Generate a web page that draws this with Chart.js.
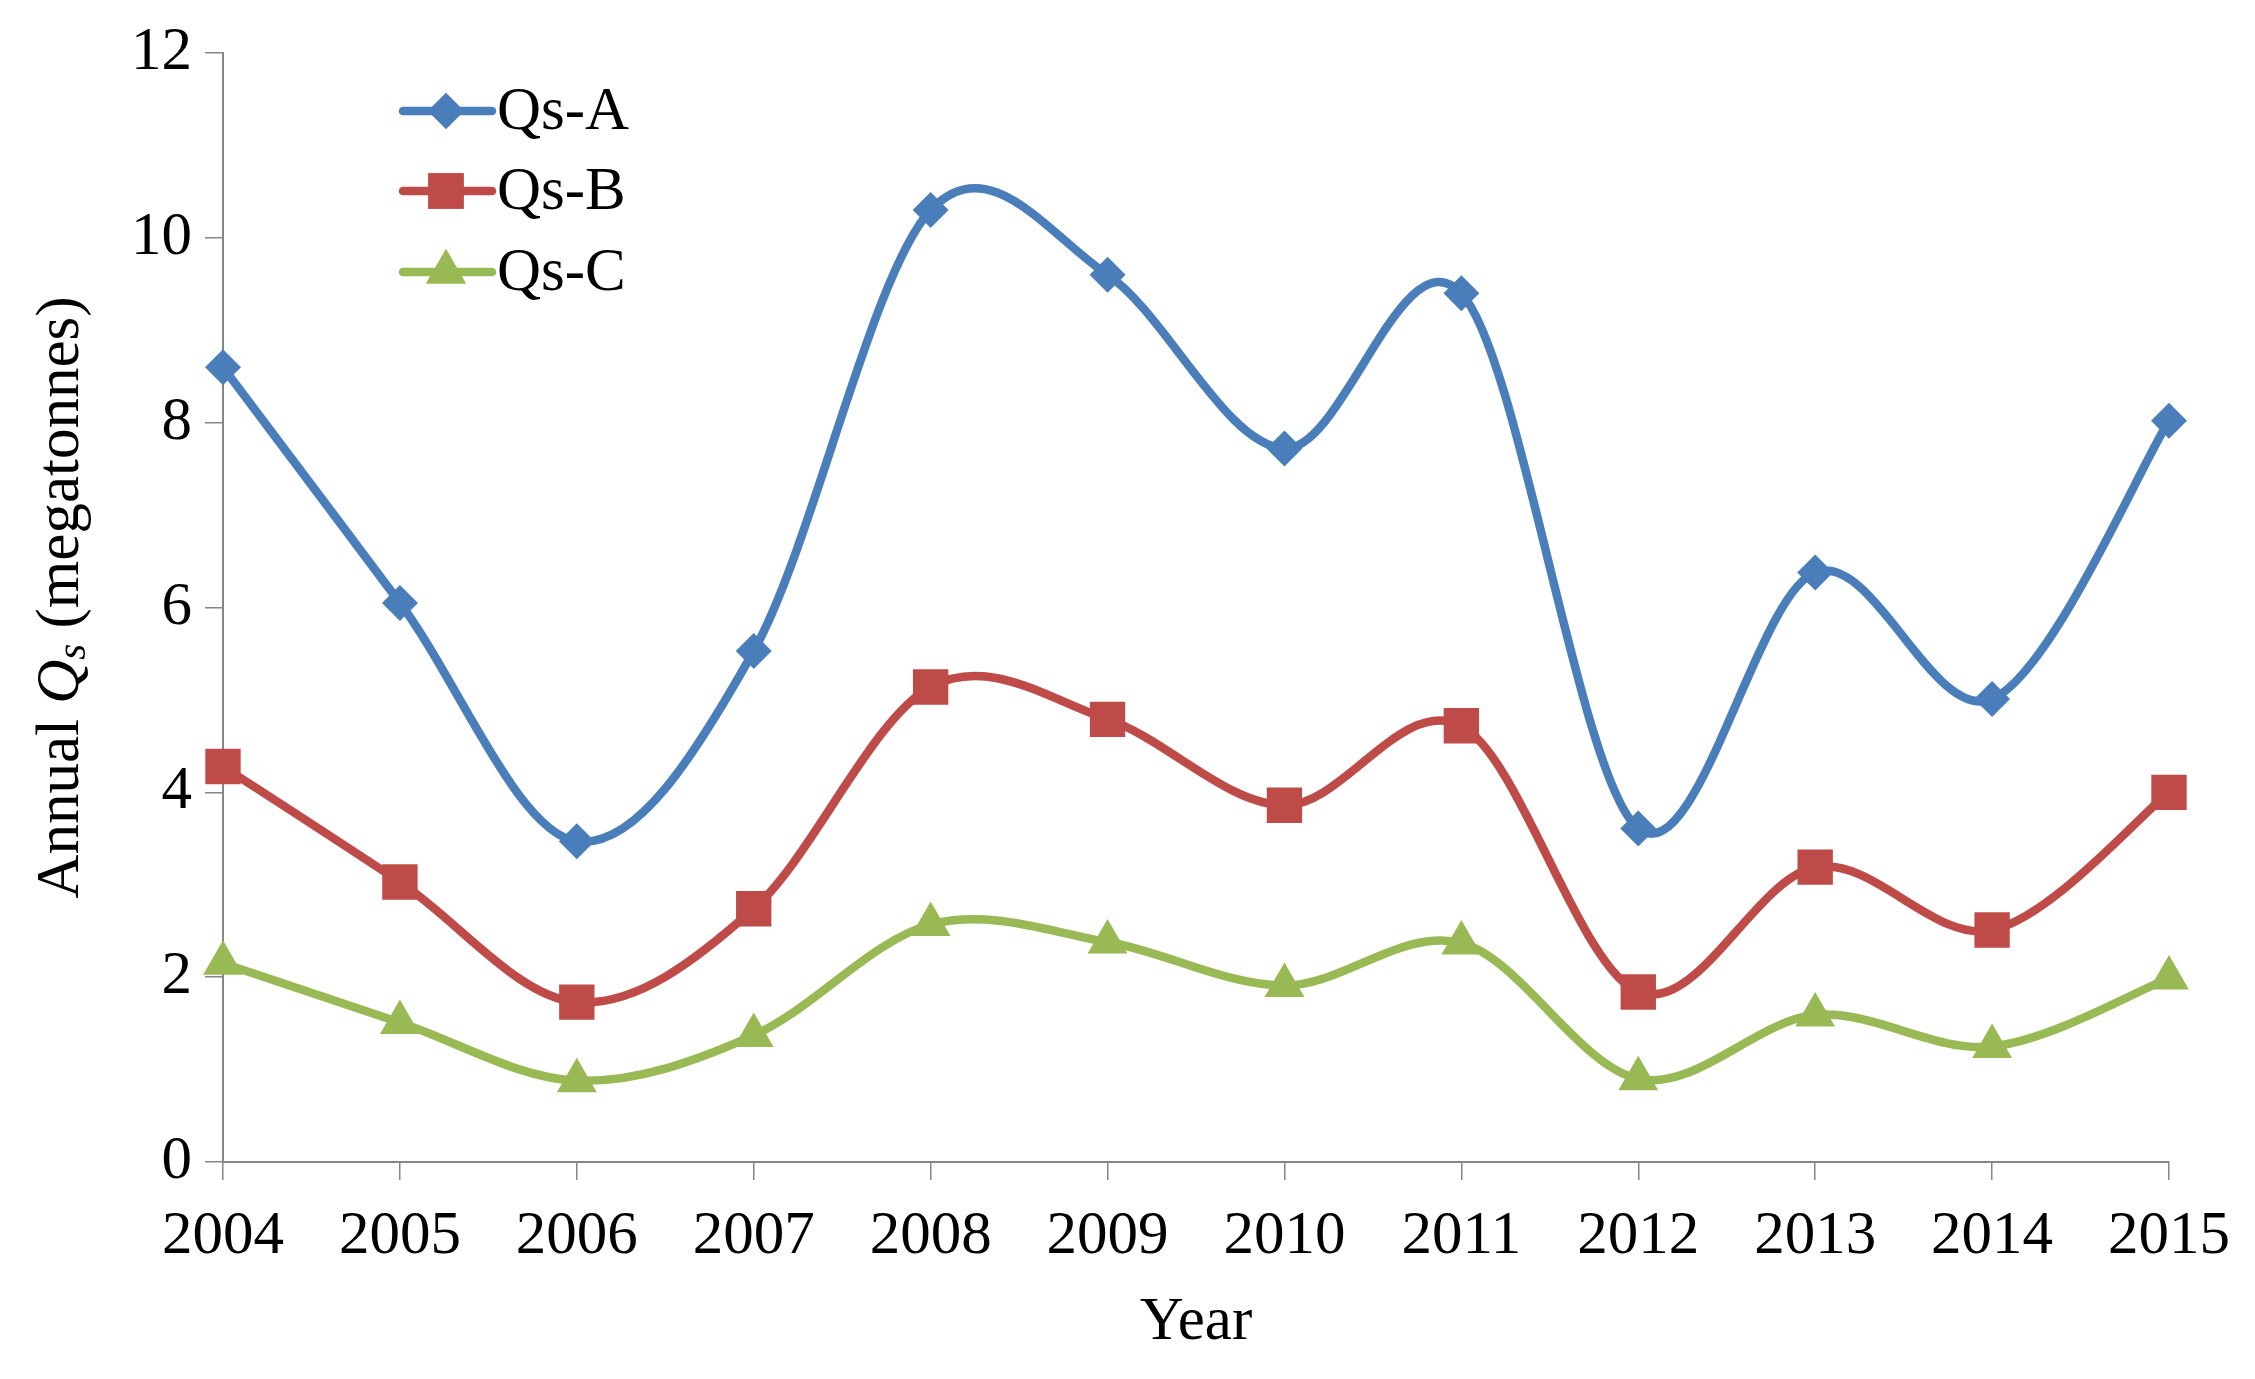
<!DOCTYPE html>
<html>
<head>
<meta charset="utf-8">
<script src="https://cdn.jsdelivr.net/npm/chart.js@4/dist/chart.umd.min.js"></script>
<style>
  html, body { margin: 0; padding: 0; background: #ffffff; }
  #wrap { width: 2255px; height: 1379px; }
</style>
</head>
<body>
<div id="wrap"><canvas id="c" width="2255" height="1379"></canvas></div>
<script>
const years = ['2004','2005','2006','2007','2008','2009','2010','2011','2012','2013','2014','2015'];
const qsA = [8.6, 6.05, 3.47, 5.53, 10.3, 9.6, 7.72, 9.4, 3.61, 6.38, 5.01, 8.02];
const qsB = [4.28, 3.03, 1.73, 2.74, 5.14, 4.79, 3.86, 4.72, 1.84, 3.19, 2.51, 4.0];
const qsC = [2.15, 1.51, 0.88, 1.37, 2.57, 2.38, 1.91, 2.37, 0.9, 1.59, 1.25, 1.99];
const seriesNames = ['Qs-A', 'Qs-B', 'Qs-C'];
const yTicks = [0, 2, 4, 6, 8, 10, 12];

const FONT = "'Liberation Serif', 'Times New Roman', serif";
const colors = ['#4A7EBB', '#BE4B48', '#98B954'];
const styles = ['rectRot', 'rect', 'triangle'];
const radii = [18, 25, 23];
const LW = 8.5;

function mkDs(label, data, i) {
  return {
    label: label,
    data: data,
    borderColor: colors[i],
    backgroundColor: colors[i],
    pointBackgroundColor: colors[i],
    pointBorderColor: colors[i],
    pointBorderWidth: 0,
    pointStyle: styles[i],
    pointRadius: radii[i],
    pointHoverRadius: radii[i],
    borderWidth: LW,
    tension: 0.4,
    fill: false,
    order: i
  };
}

// Excel-style (Catmull-Rom) smoothing: control points from neighbouring points
const smoothPlugin = {
  id: 'excelSmooth',
  beforeDatasetDraw(chart, args) {
    const meta = chart.getDatasetMeta(args.index);
    const line = meta.dataset;
    if (!line) return;
    line.updateControlPoints(chart.chartArea, meta.iScale.axis);
    const pts = meta.data;
    const n = pts.length;
    for (let i = 0; i < n; i++) {
      const p = pts[i];
      const prev = pts[Math.max(0, i - 1)];
      const next = pts[Math.min(n - 1, i + 1)];
      const dx = (next.x - prev.x) / 6;
      const dy = (next.y - prev.y) / 6;
      p.cp1x = p.x - dx; p.cp1y = p.y - dy;
      p.cp2x = p.x + dx; p.cp2y = p.y + dy;
    }
    line._path = undefined;
  }
};

const yTitlePlugin = {
  id: 'yTitle',
  afterDraw(chart) {
    const ctx = chart.ctx;
    const area = chart.chartArea;
    const cy = (area.top + area.bottom) / 2 - 10;
    const parts = [
      { t: 'Annual ', f: '61px ' + FONT, dy: 0 },
      { t: 'Q', f: 'italic 61px ' + FONT, dy: 0 },
      { t: 's', f: 'italic 41px ' + FONT, dy: 12 },
      { t: ' (megatonnes)', f: '61px ' + FONT, dy: 0 }
    ];
    ctx.save();
    let total = 0;
    parts.forEach(p => { ctx.font = p.f; p.w = ctx.measureText(p.t).width; total += p.w; });
    ctx.translate(62, cy);
    ctx.rotate(-Math.PI / 2);
    ctx.fillStyle = '#000000';
    ctx.textBaseline = 'middle';
    let x = -total / 2;
    parts.forEach(p => { ctx.font = p.f; ctx.fillText(p.t, x, p.dy); x += p.w; });
    ctx.restore();
  }
};

const legendPlugin = {
  id: 'customLegend',
  afterDraw(chart) {
    const ctx = chart.ctx;
    const rows = [111, 191, 272];
    chart.data.datasets.forEach((ds, i) => {
      const y = rows[i];
      ctx.save();
      ctx.strokeStyle = ds.borderColor;
      ctx.lineWidth = LW;
      ctx.lineCap = 'round';
      ctx.beginPath();
      ctx.moveTo(403, y);
      ctx.lineTo(492, y);
      ctx.stroke();
      ctx.fillStyle = ds.borderColor;
      ctx.strokeStyle = ds.borderColor;
      Chart.helpers.drawPoint(ctx, { pointStyle: ds.pointStyle, radius: ds.pointRadius, borderWidth: 0, rotation: 0 }, 446, y);
      ctx.fill();
      ctx.fillStyle = '#000000';
      ctx.font = '61px ' + FONT;
      ctx.textBaseline = 'middle';
      ctx.textAlign = 'left';
      ctx.fillText(ds.label, 497, y + 2);
      ctx.restore();
    });
  }
};

new Chart(document.getElementById('c'), {
  type: 'line',
  data: {
    labels: years,
    datasets: [mkDs(seriesNames[0], qsA, 0), mkDs(seriesNames[1], qsB, 1), mkDs(seriesNames[2], qsC, 2)]
  },
  options: {
    responsive: false,
    animation: false,
    devicePixelRatio: 1,
    layout: { padding: { left: 0, right: 86, top: 53, bottom: 0 } },
    plugins: {
      legend: { display: false },
      tooltip: { enabled: false }
    },
    scales: {
      x: {
        type: 'category',
        offset: false,
        grid: { display: true, drawOnChartArea: false, drawTicks: true, tickLength: 18, color: '#868686', lineWidth: 1.5 },
        border: { display: true, color: '#868686', width: 2 },
        ticks: { color: '#000000', font: { family: FONT, size: 61 }, padding: 20, maxRotation: 0, autoSkip: false },
        title: { display: true, text: 'Year', color: '#000000', font: { family: FONT, size: 61 }, padding: { top: 0, bottom: 19 } },
        afterFit(scale) { scale.height = 1379 - 1162; }
      },
      y: {
        min: 0,
        max: 12,
        afterBuildTicks(scale) { scale.ticks = yTicks.map(v => ({ value: v })); },
        grid: { display: true, drawOnChartArea: false, drawTicks: true, tickLength: 18, color: '#868686', lineWidth: 1.5 },
        border: { display: true, color: '#868686', width: 2 },
        ticks: { color: '#000000', font: { family: FONT, size: 61 }, padding: 13 },
        afterFit(scale) { scale.width = 223; }
      }
    }
  },
  plugins: [smoothPlugin, yTitlePlugin, legendPlugin]
});
</script>
</body>
</html>
